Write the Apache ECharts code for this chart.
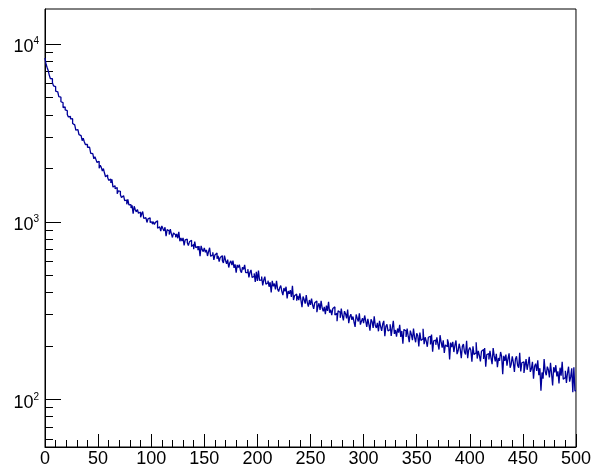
<!DOCTYPE html>
<html>
<head>
<meta charset="utf-8">
<script src="https://cdn.jsdelivr.net/npm/echarts@6/dist/echarts.min.js"></script>
<style>html,body{margin:0;padding:0;background:#fff}#c{width:594px;height:468px}</style>
</head>
<body>
<div id="c"></div>
<script>
// Histogram: 500 bins of width 1 on [0, 500]
const xMin = 0;
const xMax = 500;
const binWidth = 1;

const counts0_99 = [
8345,7694,7376,7092,6687,6398,6376,6066,5816,5760,
5429,5388,5292,5056,5022,4735,4679,4392,4429,4256,
4214,4015,3890,3910,3789,3799,3573,3507,3490,3282,
3297,3277,3091,3051,3040,2857,2955,2818,2720,2724,
2625,2626,2616,2429,2417,2397,2260,2322,2237,2157,
2191,1998,2078,2022,1931,1991,1880,1793,1835,1776,
1709,1741,1654,1731,1568,1596,1533,1560,1436,1491,
1484,1420,1368,1402,1410,1315,1324,1253,1338,1246,
1248,1194,1236,1112,1223,1168,1137,1174,1117,1133,
1060,1103,1142,1043,1056,1075,991,1039,1054,991
];
const counts100_199 = [
1000,970,999,966,992,1012,920,937,948,886,
947,916,888,932,829,903,887,847,908,855,
816,865,844,818,855,808,878,777,810,779,
812,736,790,798,762,734,771,787,727,744,
701,774,715,726,692,730,641,732,697,679,
713,674,694,642,679,714,639,653,673,610,
651,667,619,643,596,630,645,603,587,645,
606,580,613,553,587,603,570,604,550,576,
517,572,552,574,532,517,555,540,572,517,
519,541,487,520,536,486,493,512,459,523
];
const counts200_299 = [
464,531,468,471,492,438,470,491,446,454,
466,431,457,400,465,433,449,416,465,419,
405,425,438,406,387,424,406,431,370,408,
393,412,378,436,363,384,392,360,383,362,
395,362,331,380,365,346,387,351,333,363,
341,370,340,324,350,358,310,333,348,319,
359,328,313,332,302,338,315,355,308,320,
298,325,332,299,306,276,316,309,288,325,
296,279,314,304,286,321,269,292,302,281,
293,273,256,301,286,275,305,264,276,287
];
const counts300_399 = [
269,297,277,256,284,265,244,283,274,253,
294,261,253,270,242,277,258,243,266,277,
227,258,265,243,248,265,228,253,277,234,
246,226,251,238,263,225,243,206,248,243,
225,251,227,210,244,232,216,251,224,210,
236,229,199,238,215,220,250,205,224,213,
198,224,227,204,232,186,214,216,203,224,
205,191,230,210,196,215,183,203,198,218,
207,168,209,197,211,185,202,215,180,188,
206,192,171,199,205,185,179,214,171,190
];
const counts400_499 = [
196,189,163,199,179,183,210,170,188,177,
164,187,191,169,195,153,179,181,168,188,
171,158,195,176,164,181,152,171,165,185,
175,139,176,165,179,155,170,182,151,158,
175,162,143,169,175,156,151,183,144,161,
163,141,154,169,147,159,174,143,149,163,
131,154,159,145,166,137,150,112,142,131,
169,144,137,153,147,133,161,140,120,152,
142,156,135,144,123,151,136,163,130,133,
145,124,141,153,126,134,150,110,152,112
];
const counts = counts0_99.concat(counts100_199, counts200_299, counts300_399, counts400_499);

const xTickValues = [0, 50, 100, 150, 200, 250, 300, 350, 400, 450, 500];
const yMajorTicks = [100, 1000, 10000];
const yMinorTicks = [60, 70, 80, 90, 200, 300, 400, 500, 600, 700, 800, 900,
                     2000, 3000, 4000, 5000, 6000, 7000, 8000, 9000];
const yMin = 54.06;
const yMax = 15740;

// step points at bin lower edges, plus closing point at the upper edge
const stepData = counts.map((v, i) => [xMin + i * binWidth, v]);
stepData.push([xMax, counts[counts.length - 1]]);

const FONT = "'Liberation Sans', Arial, Helvetica, sans-serif";
const chart = echarts.init(document.getElementById('c'), null, {renderer: 'canvas'});
chart.setOption({
  animation: false,
  backgroundColor: '#ffffff',
  grid: {left: 45, right: 18, top: 9, bottom: 21, show: true, borderColor: '#000', borderWidth: 1, backgroundColor: 'transparent'},
  xAxis: {
    type: 'value', min: xMin, max: xMax, interval: 50,
    axisLine: {show: true, lineStyle: {color: '#000', width: 1}},
    axisTick: {show: true, inside: true, length: 13, lineStyle: {color: '#000', width: 1}},
    minorTick: {show: true, splitNumber: 5, length: 7, lineStyle: {color: '#000', width: 1}},
    splitLine: {show: false},
    axisLabel: {
      color: '#000', fontSize: 18, fontFamily: FONT, margin: 3,
      customValues: xTickValues,
      showMinLabel: true, showMaxLabel: true
    }
  },
  yAxis: [{
    type: 'log', logBase: 10, min: yMin, max: yMax, position: 'left',
    axisLine: {show: true, lineStyle: {color: '#000', width: 1}},
    axisTick: {show: true, inside: true, length: 16, customValues: yMajorTicks, lineStyle: {color: '#000', width: 1}},
    splitLine: {show: false},
    axisLabel: {
      customValues: yMajorTicks,
      margin: 6,
      padding: [5, 0, 0, 0],
      formatter: function (v) {
        return '{b|10}{s|' + Math.round(Math.log10(v)) + '}';
      },
      rich: {
        b: {fontSize: 18, fontFamily: FONT, color: '#000', lineHeight: 20, verticalAlign: 'bottom'},
        s: {fontSize: 10, fontFamily: FONT, color: '#000', lineHeight: 8, verticalAlign: 'top'}
      }
    }
  }, {
    type: 'log', logBase: 10, min: yMin, max: yMax, position: 'left',
    axisLine: {show: false},
    axisTick: {show: true, inside: true, length: 8, customValues: yMinorTicks, lineStyle: {color: '#000', width: 1}},
    splitLine: {show: false},
    axisLabel: {show: false}
  }],
  series: [{
    type: 'line',
    xAxisIndex: 0, yAxisIndex: 0,
    data: stepData,
    step: 'end',
    showSymbol: false,
    symbol: 'none',
    silent: true,
    lineStyle: {color: '#000099', width: 1.3},
    clip: true
  }]
});
</script>
</body>
</html>
